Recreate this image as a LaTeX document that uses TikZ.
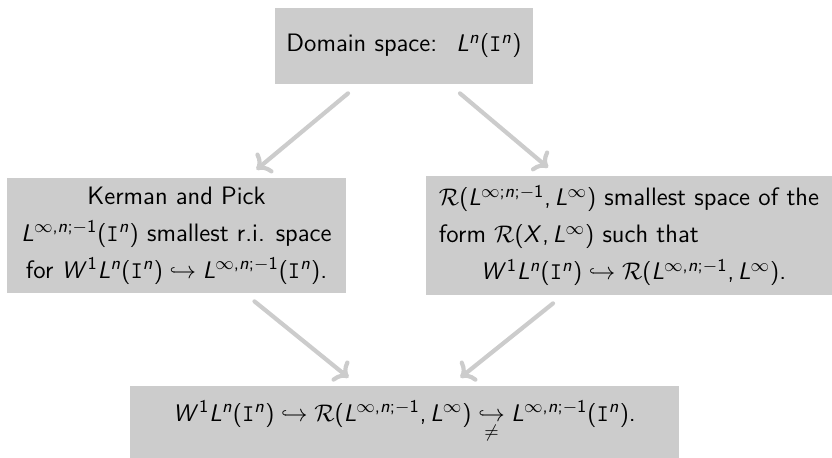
\documentclass[tikz,border=0pt]{standalone}
\usetikzlibrary{arrows.meta}
\DeclareSymbolFont{sfletters}{OT1}{cmss}{m}{sl}
\DeclareSymbolFont{sfupright}{OT1}{cmss}{m}{n}
\DeclareMathSymbol{L}{\mathalpha}{sfletters}{`L}
\DeclareMathSymbol{W}{\mathalpha}{sfletters}{`W}
\DeclareMathSymbol{X}{\mathalpha}{sfletters}{`X}
\DeclareMathSymbol{n}{\mathalpha}{sfletters}{`n}
\DeclareMathSymbol{1}{\mathalpha}{sfupright}{`1}
\DeclareMathSymbol{,}{\mathpunct}{sfupright}{`,}
\DeclareMathSymbol{;}{\mathpunct}{sfupright}{`;}
\DeclareMathSymbol{(}{\mathopen}{sfupright}{`(}
\DeclareMathSymbol{)}{\mathclose}{sfupright}{`)}
\definecolor{boxgray}{RGB}{204,204,204}
\tikzset{
  gbox/.style={fill=boxgray, draw=none, inner sep=0pt, font=\sffamily\fontsize{12.6}{18.5}\selectfont},
  garrow/.style={draw=boxgray, line width=2.1pt, line cap=round, -{Computer Modern Rightarrow[line cap=round]}}
}
\newcommand{\Iset}{\mathtt{I}}
\begin{document}
\begin{tikzpicture}[x=0.5pt,y=-0.5pt]
\useasboundingbox (0,0) rectangle (832,458);
\node[gbox, minimum width=129pt, minimum height=38pt] (top) at (404,46)
  {Domain space: \ $L^n(\Iset^n)$};
\node[gbox, minimum width=169.5pt, minimum height=57.5pt, align=center] (left) at (176.5,235.5)
  {Kerman and Pick\\
   $L^{\infty,n;-1}(\Iset^n)$ smallest r.i. space\\
   for $W^1L^n(\Iset^n)\hookrightarrow L^{\infty,n;-1}(\Iset^n)$.};
\node[gbox, minimum width=203pt, minimum height=59.5pt, align=left] (right) at (629,235.5)
  {$\mathcal{R}(L^{\infty;n;-1},L^\infty)$ smallest space of the\\
   form $\mathcal{R}(X,L^\infty)$ such that\\
   \hspace*{21pt}$W^1L^n(\Iset^n)\hookrightarrow\mathcal{R}(L^{\infty,n;-1},L^\infty)$.};
\node[gbox, minimum width=274.5pt, minimum height=36pt] (bottom) at (404.5,422)
  {$W^1L^n(\Iset^n)\hookrightarrow\mathcal{R}(L^{\infty,n;-1},L^\infty)\mathrel{\mathop{\hookrightarrow}\limits_{\neq}}L^{\infty,n;-1}(\Iset^n)$.};
\draw[garrow] ([xshift=-28pt,yshift=-4.5pt]top.south) -- ([xshift=40pt,yshift=4pt]left.north);
\draw[garrow] ([xshift=28pt,yshift=-4.5pt]top.south) -- ([xshift=-40.5pt,yshift=4pt]right.north);
\draw[garrow] ([xshift=39pt,yshift=-4pt]left.south) -- ([xshift=-28pt,yshift=4pt]bottom.north);
\draw[garrow] ([xshift=-38pt,yshift=-4pt]right.south) -- ([xshift=28pt,yshift=4pt]bottom.north);
\end{tikzpicture}
\end{document}
